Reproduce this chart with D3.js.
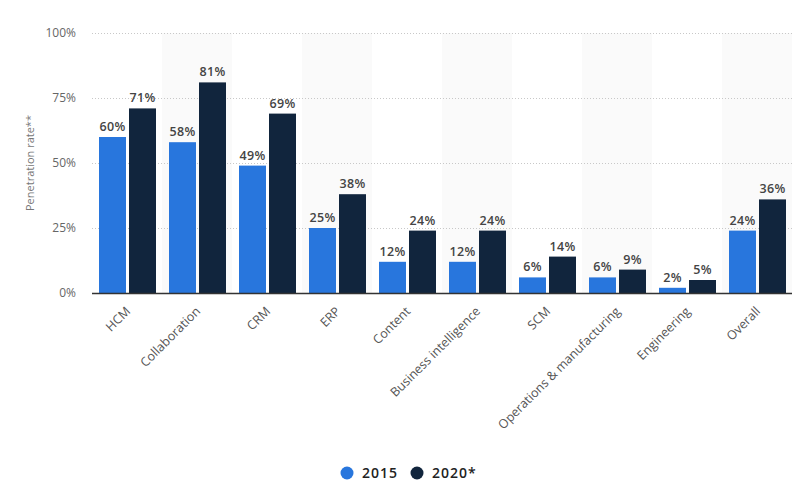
<!DOCTYPE html>
<html><head><meta charset="utf-8">
<script src="https://cdn.jsdelivr.net/npm/d3@7"></script>
<style>body{margin:0;background:#fff}svg{display:block}</style>
</head><body>
<svg id="c" width="800" height="500"></svg>
<script>
const categories = ["HCM","Collaboration","CRM","ERP","Content","Business intelligence","SCM","Operations & manufacturing","Engineering","Overall"];
const series = ["2015","2020*"];
const values2015 = [60,58,49,25,12,12,6,6,2,24];
const values2020 = [71,81,69,38,24,24,14,9,5,36];
const yTicks = [0,25,50,75,100];
const colors = ["#2876dd","#11253d"];

const svg = d3.select("#c");
const m = {l:92, r:8, t:33, b:207};
const W = 800, H = 500;
const x = d3.scaleBand().domain(categories).range([m.l, W-m.r]).paddingInner(0).paddingOuter(0);
const y = d3.scaleLinear().domain([0,100]).range([H-m.b, m.t]);
const inner = d3.scaleBand().domain(series).range([7, x.bandwidth()-6]).paddingInner(0.1);

// alternating band backgrounds
svg.append("g").selectAll("rect").data(categories.filter((d,i)=>i%2===1)).join("rect")
  .attr("x", d=>x(d)).attr("y", m.t).attr("width", x.bandwidth()).attr("height", y(0)-m.t)
  .attr("fill","#fafafa");

// grid
const yAxis = d3.axisLeft(y).tickValues(yTicks).tickFormat(d=>d+"%").tickSize(0).tickPadding(16);
const gy = svg.append("g").attr("transform",`translate(${m.l},0)`).call(yAxis);
gy.select(".domain").remove();
gy.selectAll("text").attr("fill","#666").style("font-family","'Open Sans'").style("font-size","12px");
svg.append("g").selectAll("line").data(yTicks.filter(d=>d>0)).join("line")
  .attr("x1", m.l).attr("x2", W-m.r).attr("y1", d=>y(d)+0.5).attr("y2", d=>y(d)+0.5)
  .attr("stroke","#c8c8c8").attr("stroke-dasharray","1,2");

// bars
const data = categories.map((c,i)=>({c, vals:[{s:series[0],v:values2015[i]},{s:series[1],v:values2020[i]}]}));
const g = svg.append("g").selectAll("g").data(data).join("g").attr("transform", d=>`translate(${x(d.c)},0)`);
g.selectAll("rect").data(d=>d.vals).join("rect")
  .attr("x", d=>inner(d.s)).attr("width", inner.bandwidth())
  .attr("y", d=>y(d.v)).attr("height", d=>y(0)-y(d.v))
  .attr("fill", (d,i)=>colors[i]);
g.selectAll("text").data(d=>d.vals).join("text")
  .attr("x", d=>inner(d.s)+inner.bandwidth()/2).attr("y", d=>y(d.v)-6)
  .attr("text-anchor","middle").attr("fill","#444")
  .style("font-family","'Open Sans'").style("font-size","12.5px").style("font-weight","600")
  .style("letter-spacing","0.3px")
  .text(d=>d.v+"%");

// baseline
svg.append("line").attr("x1",m.l).attr("x2",W-m.r).attr("y1",y(0)+0.5).attr("y2",y(0)+0.5)
  .attr("stroke","#333").attr("stroke-width",1.5);

// x labels
const xAxis = d3.axisBottom(x).tickSize(0).tickPadding(0);
const gx = svg.append("g").attr("transform",`translate(0,${y(0)})`).call(xAxis);
gx.select(".domain").remove();
gx.selectAll("text")
  .attr("text-anchor","end").attr("fill","#555")
  .attr("transform","translate(1,16) rotate(-45)").attr("dy","0.35em")
  .style("font-family","'Open Sans'").style("font-size","12.5px");

// y title
svg.append("text").attr("transform",`translate(34,${(y(0)+y(100))/2}) rotate(-90)`)
  .attr("text-anchor","middle").attr("fill","#777")
  .style("font-family","'Open Sans'").style("font-size","11px").text("Penetration rate**");

// legend
const lg = svg.append("g").attr("transform","translate(347,473)");
const li = lg.selectAll("g").data(series).join("g").attr("transform",(d,i)=>`translate(${i*70},0)`);
li.append("circle").attr("r",6.5).attr("fill",(d,i)=>colors[i]);
li.append("text").attr("x",15).attr("dy","0.35em").attr("fill","#222")
  .style("font-family","'Open Sans'").style("font-size","14px").style("font-weight","600")
  .style("letter-spacing","1px").text(d=>d);
</script>
</body></html>
